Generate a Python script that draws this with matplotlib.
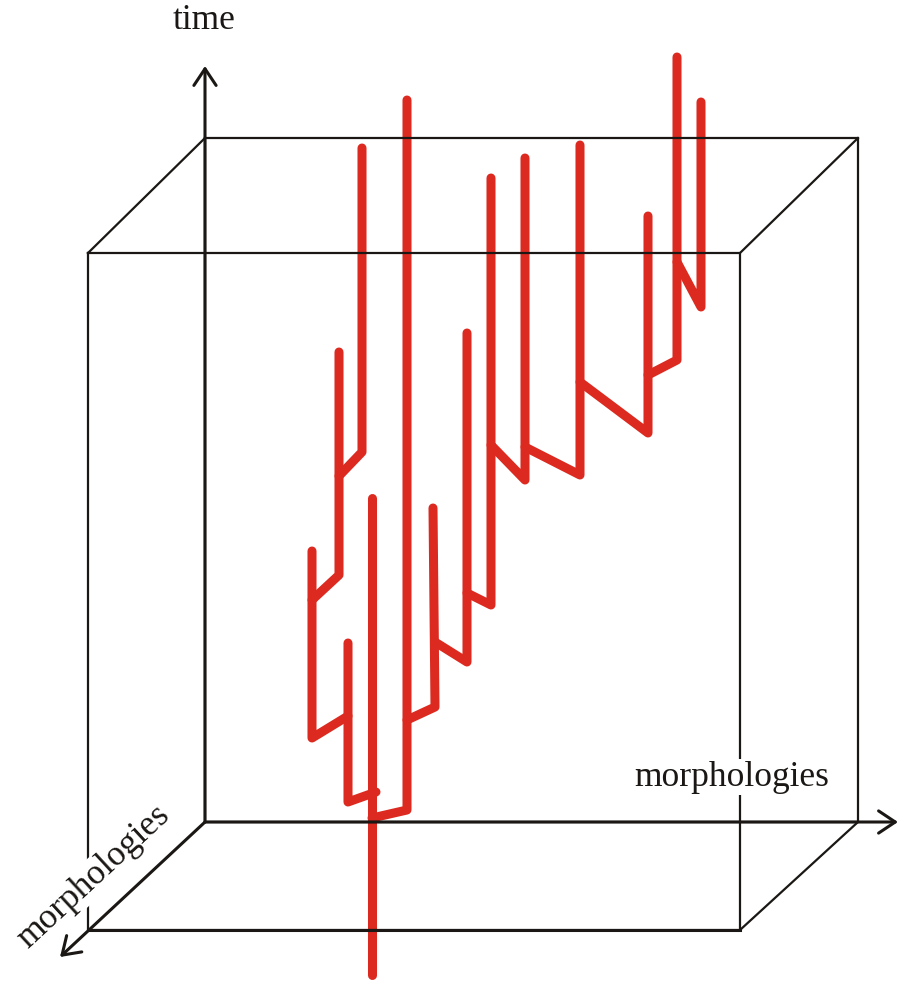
import matplotlib.pyplot as plt

W, H = 914, 982

# box faces (pixel coordinates, y grows downward)
back_face = [(205, 138), (858, 138), (858, 822), (205, 822)]
front_face = [(88, 253), (740, 253), (740, 930), (88, 930)]

# axis arrows: start, end
time_axis = [(205, 822), (205, 66)]
morph_x_axis = [(205, 822), (898, 822)]
morph_z_axis = [(205, 822), (60, 957)]

# tree lineages: each path goes from its branch point to its tip
tree_paths = [
    [(372, 975), (372, 498)],
    [(372, 818), (407, 810), (407, 100)],
    [(376, 792), (348, 802), (348, 643)],
    [(348, 716), (312, 738), (312, 551)],
    [(312, 600), (339, 575), (339, 352)],
    [(339, 476), (362, 452), (362, 148)],
    [(407, 720), (435, 707), (433, 508)],
    [(435, 642), (467, 662), (467, 333)],
    [(467, 593), (491, 605), (491, 178)],
    [(491, 445), (525, 480), (525, 158)],
    [(525, 447), (580, 475), (580, 145)],
    [(580, 382), (648, 433), (648, 216)],
    [(648, 375), (677, 360), (677, 57)],
    [(677, 262), (701, 307), (701, 102)],
]

labels = ["time", "morphologies", "morphologies"]
label_pos = [(204, 20), (732, 777), (94, 877)]
label_rot = [0, 0, 42.7]

fig = plt.figure(figsize=(W / 100, H / 100), dpi=100)
ax = fig.add_axes([0, 0, 1, 1])
ax.set_xlim(0, W)
ax.set_ylim(H, 0)
ax.axis("off")

red = "#dc2a20"
black = "#1a1714"

for path in tree_paths:
    xs = [p[0] for p in path]
    ys = [p[1] for p in path]
    ax.plot(xs, ys, color=red, lw=6.5, solid_capstyle="round",
            solid_joinstyle="round", zorder=2)

# box edges
for face in (back_face, front_face):
    xs = [p[0] for p in face] + [face[0][0]]
    ys = [p[1] for p in face] + [face[0][1]]
    ax.plot(xs, ys, color=black, lw=1.6, zorder=3)
ax.plot([front_face[2][0], front_face[3][0]], [front_face[2][1], front_face[3][1]],
        color=black, lw=2.2, zorder=3)
for a, b in zip(back_face, front_face):
    if a == (205, 822):
        continue
    ax.plot([a[0], b[0]], [a[1], b[1]], color=black, lw=1.6, zorder=3)

# arrows
for start, end in (time_axis, morph_x_axis, morph_z_axis):
    ax.annotate("", xy=end, xytext=start,
                arrowprops=dict(arrowstyle="->,head_length=0.6,head_width=0.4",
                                lw=2.2, color=black, mutation_scale=20,
                                shrinkA=0, shrinkB=0),
                zorder=4)

for txt, (x, y), rot in zip(labels, label_pos, label_rot):
    ax.text(x, y, txt, fontsize=25.5, family="Liberation Serif", color=black,
            ha="center", va="center", rotation=rot, rotation_mode="anchor",
            bbox=dict(facecolor="white", edgecolor="none", pad=1), zorder=5)

fig.savefig("out.png", dpi=100)
